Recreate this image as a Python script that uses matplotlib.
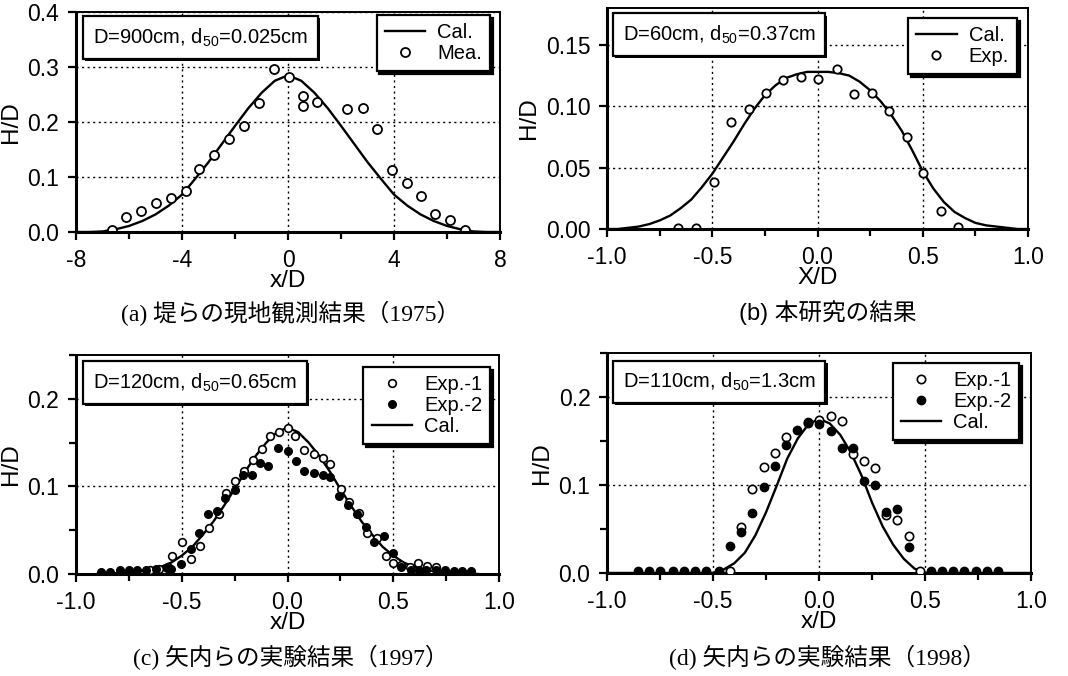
import numpy as np
import matplotlib
matplotlib.use("Agg")
import matplotlib.pyplot as plt
import matplotlib.patheffects as pe
from matplotlib.ticker import MultipleLocator, FormatStrFormatter

plt.rcParams['font.family'] = ['Liberation Sans', 'DejaVu Sans']
plt.rcParams['mathtext.default'] = 'regular'

# ---------------- (a) field data, D=900cm ----------------
a_cal_x = [-8, -7.5, -7, -6.5, -6, -5.5, -5, -4.5, -4, -3.5, -3, -2.5, -2, -1.5, -1, -0.5, 0,
           0.5, 1, 1.5, 2, 2.5, 3, 3.5, 4, 4.5, 5, 5.5, 6, 6.5, 7, 7.5, 8]
a_cal_y = [0.0, 0.0, 0.001, 0.005, 0.011, 0.020, 0.032, 0.048, 0.068, 0.097, 0.127, 0.160, 0.193,
           0.225, 0.253, 0.275, 0.285,
           0.275, 0.253, 0.225, 0.193, 0.160, 0.127, 0.097, 0.068, 0.048, 0.032, 0.020, 0.011,
           0.005, 0.001, 0.0, 0.0]
a_mea_x = [-6.65, -6.11, -5.55, -4.98, -4.42, -3.85, -3.35, -2.78, -2.21, -1.65, -1.08, -0.53,
           0.05, 0.58, 0.58, 1.11, 2.24, 2.81, 3.37, 3.94, 4.48, 5.02, 5.55, 6.11, 6.68]
a_mea_y = [0.003, 0.027, 0.038, 0.053, 0.062, 0.075, 0.114, 0.140, 0.169, 0.193, 0.234, 0.296,
           0.282, 0.248, 0.230, 0.237, 0.223, 0.226, 0.188, 0.113, 0.089, 0.065, 0.033, 0.022, 0.004]

# ---------------- (b) this study, D=60cm ----------------
b_cal_x = [-1.0, -0.95, -0.9, -0.85, -0.8, -0.75, -0.7, -0.65, -0.6, -0.55, -0.5, -0.45, -0.4,
           -0.35, -0.3, -0.25, -0.2, -0.15, -0.1, -0.05, 0.0, 0.05, 0.1, 0.15, 0.2, 0.25, 0.3,
           0.35, 0.4, 0.45, 0.5, 0.55, 0.6, 0.65, 0.7, 0.75, 0.8, 0.85, 0.9, 0.95, 1.0]
b_cal_y = [0.0, 0.0, 0.001, 0.002, 0.004, 0.007, 0.011, 0.017, 0.024, 0.034, 0.045, 0.058, 0.071,
           0.085, 0.098, 0.109, 0.117, 0.123, 0.126, 0.128, 0.128, 0.128, 0.127, 0.125, 0.120,
           0.113, 0.104, 0.093, 0.080, 0.064, 0.047, 0.033, 0.022, 0.014, 0.009, 0.005, 0.003,
           0.002, 0.001, 0.0, 0.0]
b_exp_x = [-0.661, -0.579, -0.49, -0.411, -0.327, -0.245, -0.164, -0.079, 0.003, 0.092, 0.171,
           0.258, 0.34, 0.427, 0.503, 0.585, 0.669]
b_exp_y = [0.001, 0.001, 0.038, 0.087, 0.098, 0.111, 0.121, 0.124, 0.122, 0.130, 0.110, 0.111,
           0.096, 0.075, 0.046, 0.015, 0.002]

# ---------------- (c) Yanai et al. 1997, D=120cm ----------------
c_cal_x = [-0.9, -0.85, -0.8, -0.75, -0.7, -0.65, -0.6, -0.55, -0.5, -0.45, -0.4, -0.35, -0.3,
           -0.25, -0.2, -0.15, -0.1, -0.05, 0.0, 0.05, 0.1, 0.15, 0.2, 0.25, 0.3, 0.35, 0.4,
           0.45, 0.5, 0.55, 0.6, 0.65, 0.7, 0.75, 0.8, 0.85, 0.9]
c_cal_y = [0.0, 0.0005, 0.001, 0.002, 0.003, 0.005, 0.008, 0.013, 0.021, 0.031, 0.045, 0.060,
           0.078, 0.097, 0.117, 0.135, 0.150, 0.162, 0.167, 0.162, 0.150, 0.135, 0.117, 0.097,
           0.078, 0.060, 0.045, 0.031, 0.021, 0.013, 0.008, 0.005, 0.003, 0.002, 0.001, 0.0005, 0.0]
c_exp1_x = [-0.65, -0.61, -0.566, -0.544, -0.50, -0.455, -0.413, -0.373, -0.326, -0.29, -0.25,
            -0.208, -0.165, -0.121, -0.082, -0.04, 0.0, 0.036, 0.08, 0.123, 0.169, 0.203, 0.252,
            0.293, 0.336, 0.375, 0.422, 0.465, 0.50, 0.535, 0.577, 0.618, 0.658, 0.70]
c_exp1_y = [0.004, 0.006, 0.008, 0.020, 0.037, 0.017, 0.032, 0.053, 0.068, 0.093, 0.106,
            0.118, 0.130, 0.143, 0.157, 0.162, 0.167, 0.158, 0.141, 0.137, 0.132, 0.125, 0.097,
            0.082, 0.070, 0.047, 0.041, 0.020, 0.012, 0.010, 0.008, 0.013, 0.009, 0.008]
c_exp2_x = [-0.88, -0.84, -0.79, -0.75, -0.71, -0.67, -0.62, -0.57, -0.55, -0.505, -0.457, -0.42,
            -0.377, -0.335, -0.297, -0.25, -0.21, -0.166, -0.128, -0.09, -0.043, 0.0, 0.038,
            0.077, 0.123, 0.169, 0.2, 0.243, 0.285, 0.328, 0.37, 0.411, 0.454, 0.5, 0.535,
            0.585, 0.62, 0.654, 0.703, 0.746, 0.785, 0.826, 0.869]
c_exp2_y = [0.002, 0.002, 0.004, 0.004, 0.005, 0.005, 0.006, 0.007, 0.006, 0.011, 0.028, 0.047,
            0.068, 0.072, 0.087, 0.096, 0.113, 0.113, 0.127, 0.123, 0.144, 0.140, 0.129,
            0.117, 0.115, 0.113, 0.111, 0.089, 0.079, 0.069, 0.054, 0.037, 0.043, 0.024, 0.008,
            0.005, 0.005, 0.004, 0.004, 0.004, 0.003, 0.003, 0.003]

# ---------------- (d) Yanai et al. 1998, D=110cm ----------------
d_cal_x = [-1.0, -0.9, -0.8, -0.7, -0.6, -0.5, -0.45, -0.4, -0.35, -0.3, -0.25, -0.2, -0.15,
           -0.1, -0.05, 0.0, 0.05, 0.1, 0.15, 0.2, 0.25, 0.3, 0.35, 0.4, 0.45, 0.5, 0.6, 0.7,
           0.8, 0.9, 1.0]
d_cal_y = [0.0, 0.0, 0.0, 0.0, 0.0, 0.0, 0.004, 0.011, 0.023, 0.043, 0.069, 0.099, 0.130, 0.153,
           0.169, 0.175, 0.170, 0.157, 0.137, 0.111, 0.080, 0.053, 0.032, 0.016, 0.005, 0.0,
           0.0, 0.0, 0.0, 0.0, 0.0]
d_exp1_x = [-0.42, -0.367, -0.315, -0.26, -0.21, -0.154, -0.05, 0.0, 0.055, 0.106, 0.16, 0.21,
            0.263, 0.315, 0.37, 0.422, 0.477]
d_exp1_y = [0.002, 0.052, 0.095, 0.120, 0.136, 0.155, 0.170, 0.174, 0.178, 0.173, 0.135, 0.127,
            0.119, 0.066, 0.060, 0.042, 0.002]
d_exp2_x = [-0.853, -0.802, -0.75, -0.69, -0.636, -0.585, -0.531, -0.474, -0.42, -0.367, -0.315,
            -0.26, -0.21, -0.154, -0.102, -0.05, 0.0, 0.055, 0.106, 0.16, 0.21, 0.263, 0.315,
            0.37, 0.422, 0.528, 0.578, 0.63, 0.685, 0.74, 0.79, 0.843]
d_exp2_y = [0.002, 0.002, 0.002, 0.002, 0.002, 0.002, 0.002, 0.002, 0.031, 0.047, 0.068, 0.098,
            0.122, 0.146, 0.162, 0.172, 0.169, 0.161, 0.142, 0.142, 0.105, 0.100, 0.069,
            0.073, 0.030, 0.002, 0.002, 0.002, 0.002, 0.002, 0.002, 0.002]

TICK_FS = 16.5
BOX_FS = 14.5
CAP_FS = 17
CAP_SERIF = ['Liberation Serif', 'Noto Sans CJK JP']
CAP_SANS = ['Liberation Sans', 'Noto Sans CJK JP']


def style_axes(ax, xlim, ylim, xmaj, xmin, ymaj, ymin, xfmt, yfmt, xlabel):
    ax.set_xlim(*xlim)
    ax.set_ylim(*ylim)
    ax.xaxis.set_major_locator(MultipleLocator(xmaj))
    ax.xaxis.set_minor_locator(MultipleLocator(xmin))
    ax.yaxis.set_major_locator(MultipleLocator(ymaj))
    ax.yaxis.set_minor_locator(MultipleLocator(ymin))
    ax.xaxis.set_major_formatter(FormatStrFormatter(xfmt))
    ax.yaxis.set_major_formatter(FormatStrFormatter(yfmt))
    ax.tick_params(which='both', direction='out', top=False, right=False,
                   labelsize=TICK_FS, width=1.6)
    ax.tick_params(which='major', length=6, pad=6)
    ax.tick_params(which='minor', length=5)
    ax.grid(True, which='major', linestyle=(0, (1.5, 2.5)), color='black', linewidth=1.0)
    ax.set_axisbelow(True)
    for s in ['left', 'bottom']:
        ax.spines[s].set_linewidth(2.2)
    for s in ['top', 'right']:
        ax.spines[s].set_linewidth(1.4)
    # x label sits just under the tick labels, touching the middle one like the original
    ax.set_xlabel(xlabel, fontsize=TICK_FS + 1, labelpad=-1)
    ax.set_ylabel('H/D', fontsize=TICK_FS + 1, labelpad=4)


def info_box(ax, x, y, txt):
    t = ax.text(x, y, txt, transform=ax.transAxes, ha='left', va='top', fontsize=BOX_FS,
                zorder=6,
                bbox=dict(boxstyle='square,pad=0.5', facecolor='white', edgecolor='black',
                          linewidth=1.6))
    t.get_bbox_patch().set_path_effects([
        pe.SimplePatchShadow(offset=(1.5, -1.5), shadow_rgbFace='black', alpha=1.0),
        pe.Normal()])


def make_legend(ax, anchor, ncol_order):
    handles, labels = ax.get_legend_handles_labels()
    order = [labels.index(l) for l in ncol_order]
    leg = ax.legend([handles[i] for i in order], [labels[i] for i in order],
                    loc='upper right', bbox_to_anchor=anchor, borderaxespad=0,
                    fontsize=BOX_FS, frameon=True, fancybox=False, edgecolor='black',
                    framealpha=1, handlelength=2.0, handletextpad=0.6, labelspacing=0.1,
                    borderpad=0.4, shadow={'color': 'black', 'alpha': 1.0})
    leg.get_frame().set_linewidth(1.6)
    leg.set_zorder(7)


fig = plt.figure(figsize=(10.68, 6.76), dpi=100)

# (a)
ax = fig.add_axes([0.0712, 0.6568, 0.397, 0.3254])
ax.plot(a_cal_x, a_cal_y, color='black', linewidth=1.7, label='Cal.')
ax.plot(a_mea_x, a_mea_y, 'o', mfc='white', mec='black', ms=6.5, mew=1.3, label='Mea.')
style_axes(ax, (-8, 8), (0, 0.4), 4, 2, 0.1, 0.1, '%g', '%.1f', 'x/D')
info_box(ax, 0.04, 0.935, 'D=900cm, d$_{50}$=0.025cm')
make_legend(ax, (0.976, 0.986), ['Cal.', 'Mea.'])
fig.text(0.272, 0.537, '(a) 堤らの現地観測結果（1975）', ha='center', va='center',
         fontsize=CAP_FS, family=CAP_SERIF)

# (b)
ax = fig.add_axes([0.5684, 0.6612, 0.3942, 0.3269])
ax.plot(b_cal_x, b_cal_y, color='black', linewidth=1.7, label='Cal.')
ax.plot(b_exp_x, b_exp_y, 'o', mfc='white', mec='black', ms=6, mew=1.3, label='Exp.')
style_axes(ax, (-1, 1), (0, 0.18), 0.5, 0.25, 0.05, 0.05, '%.1f', '%.2f', 'X/D')
info_box(ax, 0.037, 0.93, 'D=60cm, d$_{50}$=0.37cm')
make_legend(ax, (0.974, 0.955), ['Cal.', 'Exp.'])
fig.text(0.775, 0.537, '(b) 本研究の結果', ha='center', va='center',
         fontsize=CAP_FS, family=CAP_SANS)

# (c)
ax = fig.add_axes([0.0712, 0.1509, 0.396, 0.324])
ax.plot(c_cal_x, c_cal_y, color='black', linewidth=1.7, label='Cal.', zorder=3)
ax.plot(c_exp1_x, c_exp1_y, 'o', mfc='white', mec='black', ms=5.5, mew=1.2, label='Exp.-1',
        zorder=4)
ax.plot(c_exp2_x, c_exp2_y, 'o', mfc='black', mec='black', ms=5.5, mew=1.0, label='Exp.-2',
        zorder=4)
style_axes(ax, (-1, 1), (0, 0.25), 0.5, 0.25, 0.1, 0.05, '%.1f', '%.1f', 'x/D')
info_box(ax, 0.04, 0.925, 'D=120cm, d$_{50}$=0.65cm')
make_legend(ax, (0.979, 0.945), ['Exp.-1', 'Exp.-2', 'Cal.'])
fig.text(0.272, 0.027, '(c) 矢内らの実験結果（1997）', ha='center', va='center',
         fontsize=CAP_FS, family=CAP_SERIF)

# (d)
ax = fig.add_axes([0.5684, 0.1524, 0.397, 0.3254])
ax.plot(d_cal_x, d_cal_y, color='black', linewidth=1.7, label='Cal.', zorder=3)
ax.plot(d_exp1_x, d_exp1_y, 'o', mfc='white', mec='black', ms=6, mew=1.2, label='Exp.-1',
        zorder=4)
ax.plot(d_exp2_x, d_exp2_y, 'o', mfc='black', mec='black', ms=6, mew=1.0, label='Exp.-2',
        zorder=4)
style_axes(ax, (-1, 1), (0, 0.25), 0.5, 0.25, 0.1, 0.05, '%.1f', '%.1f', 'x/D')
info_box(ax, 0.037, 0.92, 'D=110cm, d$_{50}$=1.3cm')
make_legend(ax, (0.972, 0.955), ['Exp.-1', 'Exp.-2', 'Cal.'])
fig.text(0.775, 0.027, '(d) 矢内らの実験結果（1998）', ha='center', va='center',
         fontsize=CAP_FS, family=CAP_SERIF)

fig.savefig('out.png', dpi=100)
